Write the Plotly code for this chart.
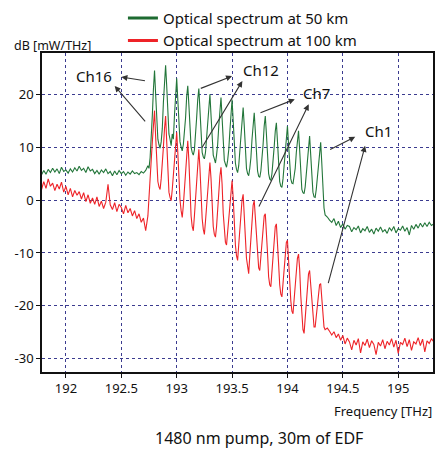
import numpy as np
import plotly.graph_objects as go

# ---------------- data ----------------
freq_left = np.round(191.78 + 0.02 * np.arange(49), 2)    # 191.78 .. 192.74
freq_mid = np.round(192.75 + 0.01 * np.arange(160), 2)    # 192.75 .. 194.34 (16 channels)
freq_right = np.round(194.36 + 0.02 * np.arange(49), 2)   # 194.36 .. 195.32

green_left = [4.8, 5.6, 4.9, 5.8, 5.2, 6.0, 5.3, 5.9, 5.0, 6.2,
              5.4, 5.7, 5.1, 5.9, 5.3, 6.1, 5.5, 6.4, 5.6, 6.0,
              5.2, 6.3, 5.5, 5.8, 5.0, 5.6, 4.9, 5.7, 5.2, 5.9,
              5.0, 5.4, 4.6, 5.5, 4.8, 5.6, 5.0, 5.4, 4.7, 5.3,
              4.9, 5.5, 5.0, 5.2, 4.8, 5.4, 5.1, 5.6, 6.5]

green_mid = [
    [6.0, 8.0, 11.5, 16.0, 21.0, 24.5, 20.0, 14.5, 11.5, 10.5],
    [9.8, 11.0, 13.5, 18.5, 23.0, 25.5, 21.5, 16.0, 12.5, 11.5],
    [10.3, 12.5, 11.5, 16.0, 20.5, 23.0, 19.0, 14.0, 11.0, 10.0],
    [9.3, 10.5, 12.5, 15.5, 19.5, 21.6, 18.0, 13.0, 10.0, 9.0],
    [8.5, 9.5, 12.0, 15.5, 19.0, 21.1, 17.0, 12.0, 9.0, 8.2],
    [7.8, 9.0, 11.5, 14.5, 18.0, 20.0, 16.0, 11.5, 8.5, 7.8],
    [7.0, 8.5, 10.5, 14.0, 17.5, 19.4, 15.5, 10.5, 7.5, 6.8],
    [6.2, 7.5, 9.5, 13.0, 17.0, 19.0, 15.0, 10.0, 7.0, 5.8],
    [5.2, 6.5, 9.0, 12.0, 15.5, 17.5, 14.0, 9.0, 6.0, 5.0],
    [4.6, 6.0, 8.0, 11.5, 14.5, 16.5, 13.0, 8.5, 5.5, 4.5],
    [4.3, 5.5, 7.5, 10.5, 14.0, 15.9, 12.5, 8.0, 5.0, 4.0],
    [3.7, 5.0, 7.0, 10.0, 13.0, 14.6, 11.0, 6.5, 3.5, 2.6],
    [2.4, 4.0, 6.5, 9.5, 12.5, 14.0, 10.5, 6.5, 4.0, 3.2],
    [3.1, 4.5, 6.0, 9.0, 11.5, 13.1, 9.5, 5.0, 2.0, 1.4],
    [1.2, 2.5, 5.0, 8.0, 10.5, 12.1, 8.5, 4.5, 1.5, 0.6],
    [0.5, 2.0, 4.5, 7.5, 9.5, 10.9, 7.0, 2.0, -1.5, -2.8],
]

green_right = [-3.2, -3.8, -4.2, -3.5, -4.8, -4.0, -5.2, -4.5, -5.5, -4.8,
               -5.0, -6.0, -5.2, -5.6, -4.9, -6.2, -5.4, -5.8, -5.0, -6.1,
               -5.5, -6.4, -5.3, -5.9, -5.1, -6.0, -5.6, -6.3, -5.2, -5.8,
               -5.0, -6.2, -5.4, -5.7, -4.9, -5.9, -5.2, -6.6, -4.8, -5.5,
               -4.6, -5.3, -4.4, -5.1, -4.3, -5.0, -4.2, -4.8, -4.5]

red_left = [2.0, 3.5, 2.2, 4.0, 2.6, 3.2, 1.8, 3.0, 2.1, 3.4,
            1.5, 2.6, 1.0, 2.2, 0.6, 1.8, 0.9, 1.6, 0.2, 1.4,
            -0.3, 1.0, -0.6, 0.4, -0.8, 0.6, -1.2, -0.2, -1.6, -0.4,
            3.0, -0.9, -1.8, -0.5, -2.2, -0.8, -1.4, -2.6, -1.0, -2.4,
            -1.6, -3.0, -2.0, -3.5, -2.6, -4.2, -3.4, -5.8, -3.0]

red_mid = [
    [1.0, 4.5, 8.0, 11.0, 14.0, 16.9, 12.0, 7.0, 3.5, 2.5],
    [2.0, 4.0, 6.5, 10.0, 13.5, 15.9, 11.0, 6.0, 1.5, 0.5],
    [-0.1, 2.0, 5.0, 8.0, 11.0, 12.8, 9.0, 4.0, 0.0, -2.0],
    [-3.3, -1.0, 2.0, 6.0, 9.5, 11.2, 7.5, 2.0, -3.0, -5.0],
    [-5.8, -3.0, 0.5, 4.5, 8.0, 9.6, 6.0, 1.0, -3.5, -5.5],
    [-6.5, -4.0, -1.0, 2.5, 5.5, 7.1, 4.0, -1.5, -5.0, -6.5],
    [-7.0, -5.0, -1.5, 1.5, 4.5, 6.2, 3.0, -2.5, -6.5, -8.0],
    [-8.5, -6.0, -3.0, 0.0, 2.5, 3.7, 0.5, -4.5, -8.5, -10.5],
    [-11.4, -8.5, -5.0, -2.0, 0.0, 1.1, -2.0, -7.0, -11.0, -13.0],
    [-13.9, -10.5, -6.5, -3.5, -1.0, -0.1, -3.5, -8.0, -11.5, -12.8],
    [-13.3, -11.0, -8.0, -5.0, -3.0, -2.6, -5.5, -10.0, -14.5, -16.0],
    [-16.4, -13.5, -10.0, -7.0, -5.0, -4.5, -7.5, -12.0, -16.0, -17.8],
    [-18.3, -16.0, -13.0, -10.0, -8.0, -7.6, -10.5, -15.0, -19.0, -21.0],
    [-21.5, -19.0, -16.0, -13.0, -11.0, -10.2, -13.0, -18.0, -22.5, -24.5],
    [-25.2, -22.0, -18.5, -15.5, -14.0, -13.3, -16.0, -20.0, -23.0, -24.0],
    [-24.0, -22.0, -19.5, -17.0, -16.0, -15.8, -18.5, -22.0, -24.0, -24.5],
]

red_right = [-24.2, -24.8, -25.5, -24.9, -26.0, -25.3, -26.5, -25.6, -27.2, -26.1,
             -26.8, -28.3, -26.5, -27.4, -26.2, -28.9, -26.8, -27.5, -26.3, -27.9,
             -26.6, -27.3, -29.2, -26.9, -27.6, -26.4, -28.1, -26.7, -27.4, -26.2,
             -27.8, -26.5, -29.0, -26.9, -27.3, -26.1, -27.7, -26.4, -28.4, -26.8,
             -27.2, -26.0, -27.5, -26.3, -28.7, -26.6, -27.1, -26.2, -26.8]

x_ticks = [192, 192.5, 193, 193.5, 194, 194.5, 195]
x_tick_labels = ["192", "192.5", "193", "193.5", "194", "194.5", "195"]
y_ticks = [-30, -20, -10, 0, 10, 20]
y_tick_labels = ["-30", "-20", "-10", "0", "10", "20"]

series_names = ["Optical spectrum at 50 km", "Optical spectrum at 100 km"]

# channel labels: (text, label position, [(tail x, tail y, head x, head y), ...])
channel_labels = [
    ("Ch16", (192.25, 23.4), [(192.727, 22.5, 192.50, 23.25), (192.727, 14.6, 192.44, 21.56)]),
    ("Ch12", (193.76, 24.6), [(193.204, 21.0, 193.50, 23.44), (193.219, 9.6, 193.593, 22.5)]),
    ("Ch7", (194.265, 20.2), [(193.743, 16.4, 194.066, 19.05), (193.736, -1.5, 194.192, 18.1)]),
    ("Ch1", (194.82, 13.1), [(194.372, 9.4, 194.612, 11.95), (194.365, -16.0, 194.701, 10.25)]),
]

# ---------------- build ----------------
freq = np.concatenate([freq_left, freq_mid, freq_right])
green = np.concatenate([green_left, np.ravel(green_mid), green_right])
red = np.concatenate([red_left, np.ravel(red_mid), red_right])

GREEN = "#23763a"
RED = "#ee2328"
FONT = "Noto Sans"

fig = go.Figure()
fig.add_trace(go.Scatter(x=freq, y=green, mode="lines", line=dict(color=GREEN, width=1.1),
                         showlegend=False, hoverinfo="skip"))
fig.add_trace(go.Scatter(x=freq, y=red, mode="lines", line=dict(color=RED, width=1.1),
                         showlegend=False, hoverinfo="skip"))
# legend entries (thicker sample lines)
fig.add_trace(go.Scatter(x=[None], y=[None], mode="lines", name=series_names[0],
                         line=dict(color="#1d6b31", width=3)))
fig.add_trace(go.Scatter(x=[None], y=[None], mode="lines", name=series_names[1],
                         line=dict(color=RED, width=3)))

annotations = []
for text, (lx, ly), arrows in channel_labels:
    annotations.append(dict(x=lx, y=ly, xref="x", yref="y", text=text, showarrow=False,
                            font=dict(family=FONT, size=15, color="#111")))
    for tx, ty, hx, hy in arrows:
        annotations.append(dict(x=hx, y=hy, xref="x", yref="y", ax=tx, ay=ty,
                                axref="x", ayref="y", text="", showarrow=True,
                                arrowhead=2, arrowsize=1.1, arrowwidth=1.1,
                                arrowcolor="#333333", standoff=0, startstandoff=0))

annotations.append(dict(x=-0.076, y=1.025, xref="paper", yref="paper", xanchor="left",
                        yanchor="middle", text="dB [mW/THz]", showarrow=False,
                        font=dict(family=FONT, size=12.5, color="#111")))
annotations.append(dict(x=1.003, y=-0.122, xref="paper", yref="paper", xanchor="right",
                        yanchor="middle", text="Frequency [THz]", showarrow=False,
                        font=dict(family=FONT, size=13, color="#111")))
annotations.append(dict(x=0.555, y=-0.206, xref="paper", yref="paper", xanchor="center",
                        yanchor="middle", text="1480 nm pump, 30m of EDF", showarrow=False,
                        font=dict(family=FONT, size=16, color="#111")))

axis_common = dict(showline=True, linecolor="#111", linewidth=1.5, mirror=True,
                   showgrid=True, gridcolor="#3b3b8f", gridwidth=1, griddash="3px,3px",
                   zeroline=False, ticks="outside", ticklen=4, tickcolor="#111",
                   tickfont=dict(family=FONT, size=13, color="#111"))

fig.update_layout(
    width=437, height=452,
    margin=dict(l=42, r=2, t=52, b=80),
    paper_bgcolor="white", plot_bgcolor="white",
    font=dict(family=FONT, color="#111"),
    xaxis=dict(range=[191.784, 195.314], tickvals=x_ticks, ticktext=x_tick_labels, **axis_common),
    yaxis=dict(range=[-32.5, 27.8], tickvals=y_ticks, ticktext=y_tick_labels, **axis_common),
    legend=dict(x=0.207, y=1.161, xanchor="left", yanchor="top", bgcolor="rgba(0,0,0,0)",
                font=dict(family=FONT, size=15, color="#111"), traceorder="normal"),
    annotations=annotations,
)

fig.write_html("out.html", config={"displayModeBar": False},
               post_script="document.body.style.margin='0';document.body.style.overflow='hidden';")
